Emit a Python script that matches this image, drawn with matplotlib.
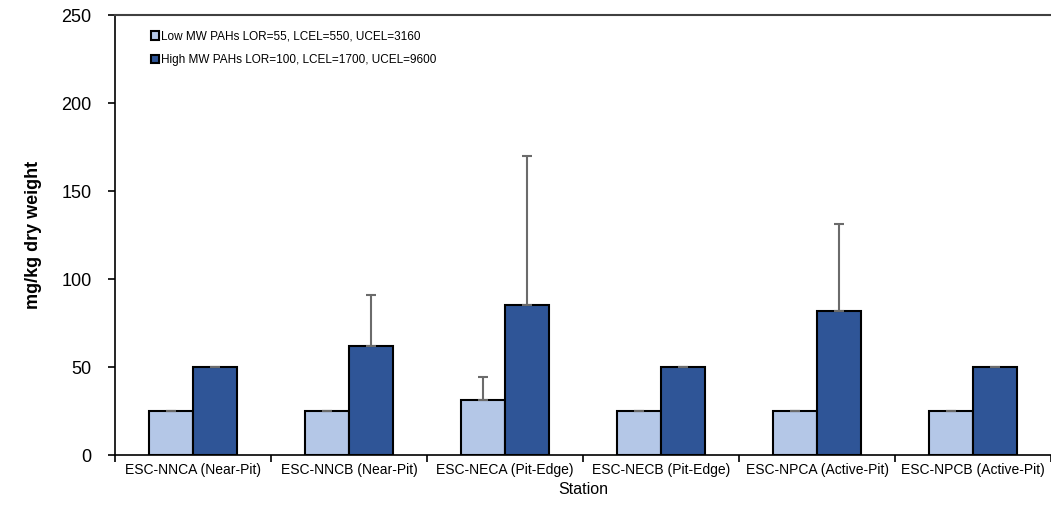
import numpy as np
import matplotlib.pyplot as plt

plt.rcParams['font.family'] = ['Liberation Sans', 'DejaVu Sans']

stations = ["ESC-NNCA (Near-Pit)", "ESC-NNCB (Near-Pit)", "ESC-NECA (Pit-Edge)",
            "ESC-NECB (Pit-Edge)", "ESC-NPCA (Active-Pit)", "ESC-NPCB (Active-Pit)"]
low_mw = [25, 25, 31, 25, 25, 25]
low_err = [0, 0, 13.5, 0, 0, 0]
high_mw = [50, 62, 85, 50, 82, 50]
high_err = [0, 29, 85, 0, 49.5, 0]
low_label = "Low MW PAHs LOR=55, LCEL=550, UCEL=3160"
high_label = "High MW PAHs LOR=100, LCEL=1700, UCEL=9600"

fig = plt.figure(figsize=(10.51, 5.07), dpi=100)
ax = fig.add_axes([115 / 1051, 1 - 455 / 507, 936 / 1051, 440 / 507])

x = np.arange(len(stations))
w = 0.285
err_kw = dict(ecolor="#6b6b6b", elinewidth=1.5, capsize=3.5, capthick=1.5)
ax.bar(x - w / 2, low_mw, w, color="#b4c7e7", edgecolor="black", linewidth=1.5,
       yerr=[np.zeros(len(x)), low_err], error_kw=err_kw, label=low_label, zorder=2)
ax.bar(x + w / 2, high_mw, w, color="#2f5597", edgecolor="black", linewidth=1.5,
       yerr=[np.zeros(len(x)), high_err], error_kw=err_kw, label=high_label, zorder=2)

ax.set_xlim(-0.5, len(stations) - 0.5)
ax.set_ylim(0, 250)
ax.set_yticks(range(0, 251, 50))
ax.tick_params(axis="y", labelsize=13, length=5, width=1.2, direction="out", pad=12)

ax.set_xticks(x)
ax.set_xticklabels(stations, fontsize=10)
ax.tick_params(axis="x", which="major", length=0, pad=6)
ax.set_xticks(np.arange(-0.5, len(stations), 1), minor=True)
ax.tick_params(axis="x", which="minor", length=5, width=1.2, direction="out")

ax.spines["right"].set_visible(False)
ax.spines["top"].set_color("#404040")
ax.spines["top"].set_linewidth(1.5)
ax.spines["left"].set_linewidth(1.2)
ax.spines["bottom"].set_linewidth(1.2)

ax.set_ylabel("mg/kg dry weight", fontsize=13, fontweight="bold", labelpad=14)
ax.set_xlabel("Station", fontsize=11.5, labelpad=3)

ax.legend(loc="upper left", bbox_to_anchor=(0.033, 0.975), frameon=False,
          fontsize=8.5, handlelength=0.7, handleheight=0.7, handletextpad=0.2,
          labelspacing=0.95, borderaxespad=0)

plt.savefig("out.png", dpi=100)
